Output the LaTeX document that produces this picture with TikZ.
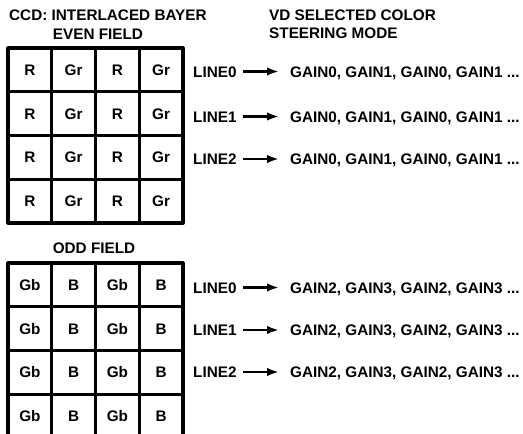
\documentclass[tikz,border=0pt]{standalone}
\usepackage{fontspec}
\setmainfont{Liberation Sans}
\usetikzlibrary{arrows.meta}
\begin{document}
\begin{tikzpicture}[x=1pt,y=-1pt,line join=round,
  cell/.style={draw,line width=3.1pt,minimum width=43.75pt,minimum height=43.75pt,inner sep=0pt,
    font=\fontsize{15.3}{18}\selectfont\bfseries,text height=11pt,text depth=0pt},
  txt/.style={inner sep=0pt,font=\fontsize{15.3}{18}\selectfont\bfseries,text height=11pt,text depth=0pt},
  steer/.style={-{Latex[length=12pt,width=8.5pt]},line width=2.3pt,shorten <=6pt,shorten >=11pt}]
  \useasboundingbox (0,0) rectangle (523,434);
  \node[txt,anchor=west] (ccd) at (9,15) {CCD: INTERLACED BAYER};
  \node[txt] (even) at (98,33.5) {EVEN FIELD};
  \node[txt] (odd) at (94,247.5) {ODD FIELD};
  \node[txt,anchor=west] (vd) at (269,15) {VD SELECTED COLOR};
  \node[txt,anchor=west] (mode) at (269,33) {STEERING MODE};
  \foreach \c [count=\i] in {R,Gr,R,Gr}
    \foreach \r in {1,...,4}
      \node[cell] (even-\r-\i) at ({8+21.875+43.75*(\i-1)},{48+21.875+43.75*(\r-1)}) {\c};
  \foreach \c [count=\i] in {Gb,B,Gb,B}
    \foreach \r in {1,...,4}
      \node[cell] (odd-\r-\i) at ({8+21.875+43.75*(\i-1)},{263+21.875+43.75*(\r-1)}) {\c};
  \foreach \y [count=\n from 0] in {71.5,116.5,159} {
    \node[txt,anchor=west] (eline\n) at (193,\y) {LINE\n};
    \node[txt,anchor=west] (egain\n) at (290,\y) {GAIN0, GAIN1, GAIN0, GAIN1 ...};
    \draw[steer] (eline\n) -- (egain\n);
  }
  \foreach \y [count=\n from 0] in {287.5,330,372} {
    \node[txt,anchor=west] (oline\n) at (193,\y) {LINE\n};
    \node[txt,anchor=west] (ogain\n) at (290,\y) {GAIN2, GAIN3, GAIN2, GAIN3 ...};
    \draw[steer] (oline\n) -- (ogain\n);
  }
\end{tikzpicture}
\end{document}
